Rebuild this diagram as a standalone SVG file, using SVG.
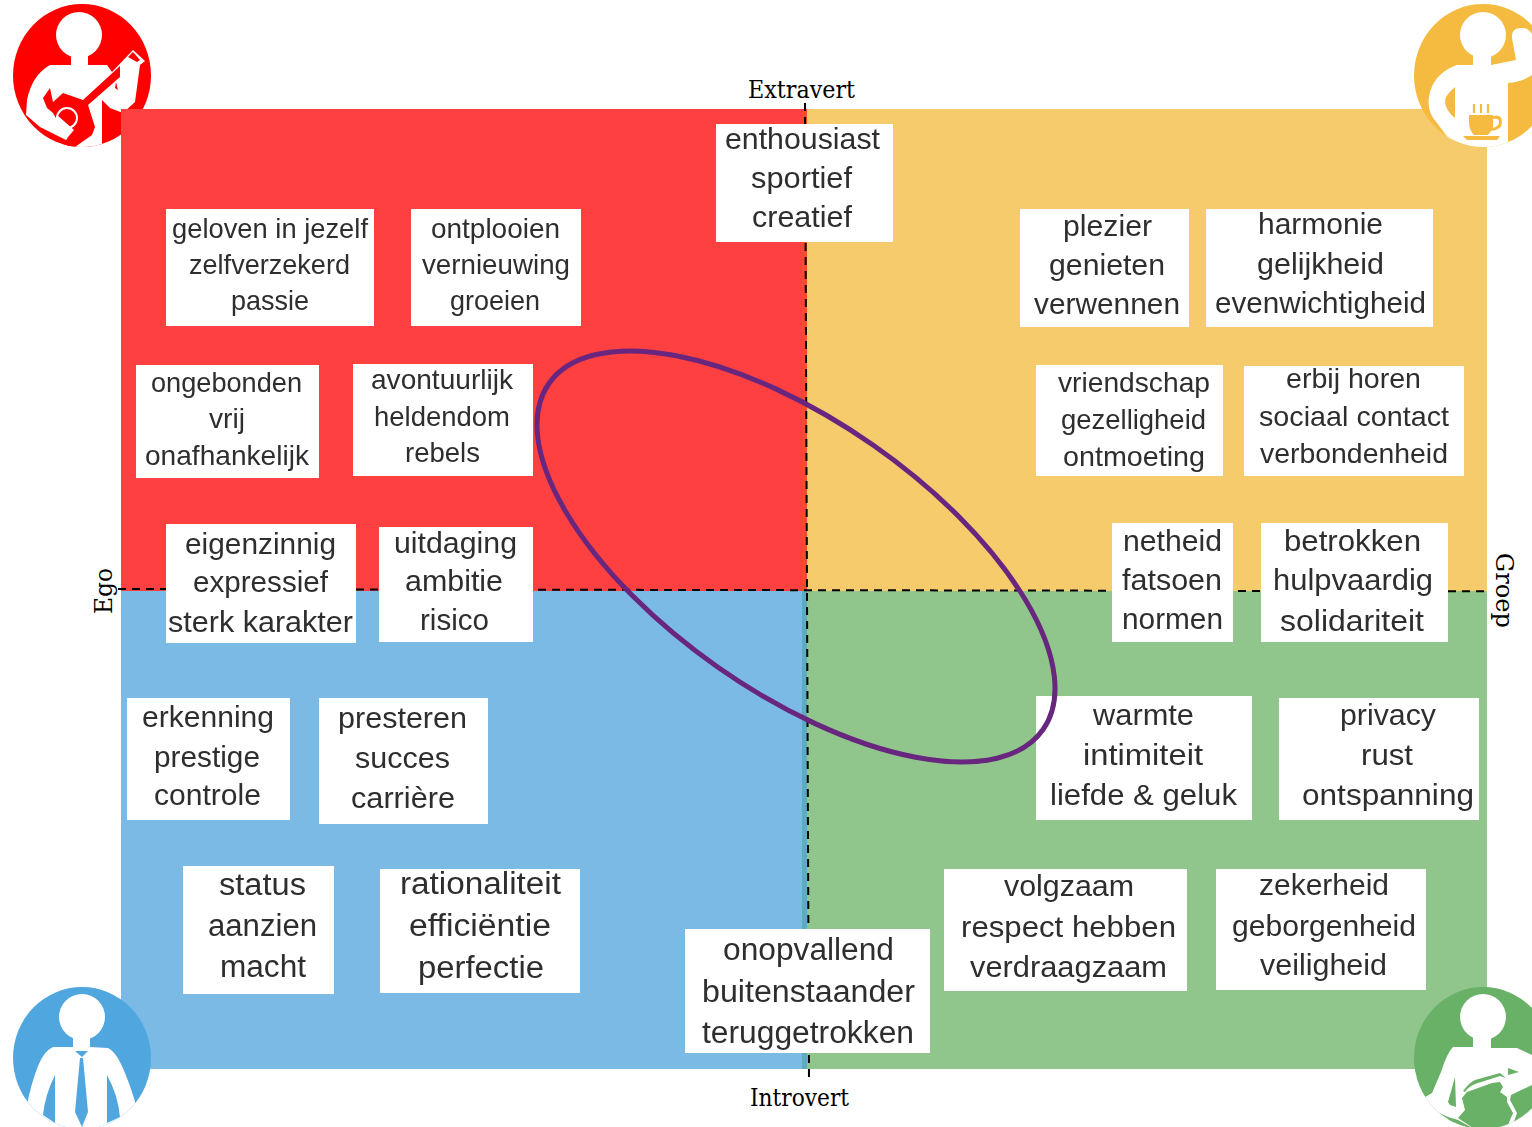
<svg xmlns="http://www.w3.org/2000/svg" width="1532" height="1127" viewBox="0 0 1532 1127">
<style>
.b{fill:#fff}
.t{font-family:"Liberation Sans",Arial,sans-serif;fill:#2e2e2e;filter:url(#soft)}
.s28{font-size:28px}.s30{font-size:30px}.s31{font-size:31px}
.a{font-family:"DejaVu Serif",serif;font-size:24px;fill:#000}
.w{fill:#fff}
.axis{fill:none;stroke:#000;stroke-width:2;stroke-dasharray:8 6}
</style>
<defs>
<filter id="soft" x="-5%" y="-20%" width="110%" height="140%"><feGaussianBlur stdDeviation="0.55"/></filter>
<clipPath id="cr"><ellipse cx="82" cy="75.5" rx="69" ry="71.5"/></clipPath>
<clipPath id="cy"><ellipse cx="1483" cy="75.5" rx="69" ry="71.5"/></clipPath>
<clipPath id="cb"><ellipse cx="82" cy="1058" rx="69" ry="71"/></clipPath>
<clipPath id="cg"><ellipse cx="1483" cy="1058" rx="69" ry="71"/></clipPath>
</defs>
<rect width="1532" height="1127" fill="#fff"/>
<g id="icon-red">
<ellipse cx="82" cy="75.5" rx="69" ry="71.5" fill="#fe0000"/>
<g clip-path="url(#cr)">
<circle class="w" cx="79" cy="35" r="23"/>
<path class="w" d="M71 52V65H50Q32 75 27 100L26 115L40 127L60 137L70 142L75 150H102V100L110 108L123 113L135 102L140 65L145 61L133 50L112 72L107 65H88V52Z"/>
<path fill="#fe0000" d="M50 88L53 102L63 93L83 100L120 66V77L88 105L95 127L92 135L75 147L62 147L68 137L69 133L57 120L53 113L47 108L43 98Z"/>
<circle cx="67" cy="118" r="10" fill="#fe0000" stroke="#fff" stroke-width="2"/>
<path class="w" d="M57 115L74 130L68 137L62 133L56 124Z"/>
<path fill="#fe0000" d="M133 52L140 60L137 62L128 57Z"/>
<path fill="#fe0000" d="M116 82L118 90L115 88Z"/>
</g>
</g>
<g id="quadrants">
<rect x="121" y="109" width="686" height="482" fill="#ff4040"/>
<rect x="807" y="109" width="680" height="482" fill="#f6cb6c"/>
<rect x="121" y="591" width="686" height="478" fill="#7cbae6"/>
<rect x="807" y="591" width="680" height="478" fill="#90c58b"/>
<rect x="802" y="109" width="5" height="482" fill="#f94a2e"/>
<rect x="802" y="591" width="5" height="478" fill="#5cacc4"/>
</g>
<g id="icon-yellow">
<ellipse cx="1483" cy="75.5" rx="69" ry="71.5" fill="#f4bb40"/>
<g clip-path="url(#cy)">
<circle class="w" cx="1483" cy="35" r="23"/>
<path class="w" d="M1473 52V65H1457Q1436 72 1430 92Q1425 110 1437 123L1452 143L1458 150H1508V83Q1522 82 1532 75V34Q1528 27 1520 28Q1511 29 1512 38L1516 60L1491 65V52Z"/>
<path fill="#f4bb40" d="M1455 87Q1444 96 1445 103Q1447 112 1455 118Z"/>
<path fill="#f4bb40" fill-rule="evenodd" d="M1469 115H1493V116Q1502 114 1502 122Q1502 130 1491 131L1488 135H1474Q1469 130 1469 122ZM1493 119V128Q1499 126 1499 122Q1499 118 1493 119ZM1463 136H1500L1497 140H1467Z"/>
<path fill="none" stroke="#f4bb40" stroke-width="2.2" d="M1474 104V113M1481 104V113M1488 104V113"/>
</g>
</g>
<g id="icon-blue">
<ellipse cx="82" cy="1058" rx="69" ry="71" fill="#50a6de"/>
<g clip-path="url(#cb)">
<circle class="w" cx="82" cy="1017" r="23"/>
<path class="w" d="M73 1034V1047H53Q44 1051 38 1066Q31 1084 27 1105L20 1130H145L136 1105Q130 1084 122 1066Q115 1051 108 1048L90 1047V1034Z"/>
<path fill="#50a6de" d="M55 1075Q45 1095 43 1115L55 1123ZM107 1075Q118 1095 120 1117L107 1123Z"/>
<path fill="#50a6de" d="M75 1051H88L82 1057ZM80 1058H83L88 1112L82 1127L75 1112Z"/>
</g>
</g>
<g id="icon-green">
<ellipse cx="1483" cy="1058" rx="69" ry="71" fill="#68b166"/>
<g clip-path="url(#cg)">
<circle class="w" cx="1483" cy="1017" r="23"/>
<path class="w" d="M1473 1034V1047H1453Q1447 1053 1441 1072L1432 1093L1425 1097L1433 1110L1448 1117L1458 1120L1476 1130H1532V1055L1517 1048H1491V1034Z"/>
<path fill="#68b166" d="M1455 1077L1448 1102L1450 1105L1456 1107ZM1448 1117L1457 1125L1449 1127Z"/>
<path fill="#68b166" d="M1508 1068L1519 1072L1508 1075Z"/>
<path fill="#68b166" d="M1467 1092L1492 1083L1500 1082L1503 1087L1500 1092L1507 1097L1507 1102L1513 1113L1508 1125V1130H1476L1458 1118L1465 1110L1462 1098Z"/>
<path fill="#68b166" d="M1511 1095L1532 1085V1130H1511L1517 1113L1510 1100Z"/>
<path fill="#68b166" d="M1463 1091Q1470 1082 1475 1080L1500 1073L1506 1078L1500 1076L1475 1084Q1468 1087 1465 1092Z"/>
</g>
</g>
<g id="connectors">
<path class="axis" d="M118 589L1487 591.3"/>
<path class="axis" d="M805 103L809 1083"/>
</g>
<g id="axis-labels">
<text class="a" x="748" y="98" textLength="107" lengthAdjust="spacingAndGlyphs">Extravert</text>
<text class="a" x="750" y="1106" textLength="99" lengthAdjust="spacingAndGlyphs">Introvert</text>
<text class="a" transform="translate(112 614) rotate(-90)" textLength="46" lengthAdjust="spacingAndGlyphs">Ego</text>
<text class="a" transform="translate(1496 553) rotate(90)" textLength="75" lengthAdjust="spacingAndGlyphs">Groep</text>
</g>
<g id="node-geloven"><rect class="b" x="166" y="209" width="208" height="117"/><text class="t s28" x="172" y="238" textLength="196" lengthAdjust="spacingAndGlyphs">geloven in jezelf</text><text class="t s28" x="189" y="274" textLength="161" lengthAdjust="spacingAndGlyphs">zelfverzekerd</text><text class="t s28" x="231" y="310" textLength="78" lengthAdjust="spacingAndGlyphs">passie</text></g>
<g id="node-ontplooien"><rect class="b" x="411" y="209" width="170" height="117"/><text class="t s28" x="431" y="238" textLength="129" lengthAdjust="spacingAndGlyphs">ontplooien</text><text class="t s28" x="422" y="274" textLength="148" lengthAdjust="spacingAndGlyphs">vernieuwing</text><text class="t s28" x="450" y="310" textLength="90" lengthAdjust="spacingAndGlyphs">groeien</text></g>
<g id="node-ongebonden"><rect class="b" x="136" y="365" width="183" height="113"/><text class="t s28" x="151" y="392" textLength="151" lengthAdjust="spacingAndGlyphs">ongebonden</text><text class="t s28" x="209" y="428" textLength="36" lengthAdjust="spacingAndGlyphs">vrij</text><text class="t s28" x="145" y="465" textLength="164" lengthAdjust="spacingAndGlyphs">onafhankelijk</text></g>
<g id="node-avontuurlijk"><rect class="b" x="353" y="364" width="180" height="112"/><text class="t s28" x="371" y="389" textLength="142" lengthAdjust="spacingAndGlyphs">avontuurlijk</text><text class="t s28" x="374" y="426" textLength="136" lengthAdjust="spacingAndGlyphs">heldendom</text><text class="t s28" x="405" y="462" textLength="75" lengthAdjust="spacingAndGlyphs">rebels</text></g>
<g id="node-eigenzinnig"><rect class="b" x="166" y="524" width="190" height="119"/><text class="t s30" x="185" y="554" textLength="151" lengthAdjust="spacingAndGlyphs">eigenzinnig</text><text class="t s30" x="193" y="592" textLength="135" lengthAdjust="spacingAndGlyphs">expressief</text><text class="t s30" x="168" y="632" textLength="185" lengthAdjust="spacingAndGlyphs">sterk karakter</text></g>
<g id="node-uitdaging"><rect class="b" x="379" y="527" width="154" height="115"/><text class="t s30" x="394" y="553" textLength="123" lengthAdjust="spacingAndGlyphs">uitdaging</text><text class="t s30" x="405" y="591" textLength="98" lengthAdjust="spacingAndGlyphs">ambitie</text><text class="t s30" x="420" y="630" textLength="69" lengthAdjust="spacingAndGlyphs">risico</text></g>
<g id="node-enthousiast"><rect class="b" x="716" y="124" width="177" height="118"/><text class="t s30" x="725" y="149" textLength="155" lengthAdjust="spacingAndGlyphs">enthousiast</text><text class="t s30" x="751" y="188" textLength="101" lengthAdjust="spacingAndGlyphs">sportief</text><text class="t s30" x="752" y="227" textLength="100" lengthAdjust="spacingAndGlyphs">creatief</text></g>
<g id="node-plezier"><rect class="b" x="1020" y="209" width="169" height="118"/><text class="t s30" x="1063" y="236" textLength="89" lengthAdjust="spacingAndGlyphs">plezier</text><text class="t s30" x="1049" y="275" textLength="116" lengthAdjust="spacingAndGlyphs">genieten</text><text class="t s30" x="1034" y="314" textLength="146" lengthAdjust="spacingAndGlyphs">verwennen</text></g>
<g id="node-harmonie"><rect class="b" x="1206" y="209" width="227" height="118"/><text class="t s30" x="1258" y="234" textLength="125" lengthAdjust="spacingAndGlyphs">harmonie</text><text class="t s30" x="1257" y="274" textLength="127" lengthAdjust="spacingAndGlyphs">gelijkheid</text><text class="t s30" x="1215" y="313" textLength="211" lengthAdjust="spacingAndGlyphs">evenwichtigheid</text></g>
<g id="node-vriendschap"><rect class="b" x="1036" y="365" width="187" height="111"/><text class="t s28" x="1058" y="392" textLength="152" lengthAdjust="spacingAndGlyphs">vriendschap</text><text class="t s28" x="1061" y="429" textLength="145" lengthAdjust="spacingAndGlyphs">gezelligheid</text><text class="t s28" x="1063" y="466" textLength="142" lengthAdjust="spacingAndGlyphs">ontmoeting</text></g>
<g id="node-erbij"><rect class="b" x="1244" y="366" width="220" height="110"/><text class="t s28" x="1286" y="388" textLength="135" lengthAdjust="spacingAndGlyphs">erbij horen</text><text class="t s28" x="1259" y="426" textLength="190" lengthAdjust="spacingAndGlyphs">sociaal contact</text><text class="t s28" x="1260" y="463" textLength="188" lengthAdjust="spacingAndGlyphs">verbondenheid</text></g>
<g id="node-netheid"><rect class="b" x="1112" y="523" width="121" height="119"/><text class="t s30" x="1123" y="551" textLength="99" lengthAdjust="spacingAndGlyphs">netheid</text><text class="t s30" x="1122" y="590" textLength="100" lengthAdjust="spacingAndGlyphs">fatsoen</text><text class="t s30" x="1122" y="629" textLength="101" lengthAdjust="spacingAndGlyphs">normen</text></g>
<g id="node-betrokken"><rect class="b" x="1261" y="523" width="187" height="119"/><text class="t s30" x="1284" y="551" textLength="137" lengthAdjust="spacingAndGlyphs">betrokken</text><text class="t s30" x="1273" y="590" textLength="160" lengthAdjust="spacingAndGlyphs">hulpvaardig</text><text class="t s30" x="1280" y="631" textLength="144" lengthAdjust="spacingAndGlyphs">solidariteit</text></g>
<g id="node-erkenning"><rect class="b" x="127" y="698" width="163" height="122"/><text class="t s30" x="142" y="727" textLength="132" lengthAdjust="spacingAndGlyphs">erkenning</text><text class="t s30" x="154" y="767" textLength="106" lengthAdjust="spacingAndGlyphs">prestige</text><text class="t s30" x="154" y="805" textLength="107" lengthAdjust="spacingAndGlyphs">controle</text></g>
<g id="node-presteren"><rect class="b" x="319" y="698" width="169" height="126"/><text class="t s30" x="338" y="728" textLength="129" lengthAdjust="spacingAndGlyphs">presteren</text><text class="t s30" x="355" y="768" textLength="95" lengthAdjust="spacingAndGlyphs">succes</text><text class="t s30" x="351" y="808" textLength="104" lengthAdjust="spacingAndGlyphs">carrière</text></g>
<g id="node-status"><rect class="b" x="183" y="866" width="151" height="128"/><text class="t s31" x="219" y="895" textLength="87" lengthAdjust="spacingAndGlyphs">status</text><text class="t s31" x="208" y="936" textLength="109" lengthAdjust="spacingAndGlyphs">aanzien</text><text class="t s31" x="220" y="977" textLength="86" lengthAdjust="spacingAndGlyphs">macht</text></g>
<g id="node-rationaliteit"><rect class="b" x="380" y="869" width="200" height="124"/><text class="t s31" x="400" y="894" textLength="161" lengthAdjust="spacingAndGlyphs">rationaliteit</text><text class="t s31" x="409" y="936" textLength="142" lengthAdjust="spacingAndGlyphs">efficiëntie</text><text class="t s31" x="418" y="978" textLength="126" lengthAdjust="spacingAndGlyphs">perfectie</text></g>
<g id="node-onopvallend"><rect class="b" x="685" y="929" width="245" height="124"/><text class="t s31" x="723" y="960" textLength="171" lengthAdjust="spacingAndGlyphs">onopvallend</text><text class="t s31" x="702" y="1002" textLength="213" lengthAdjust="spacingAndGlyphs">buitenstaander</text><text class="t s31" x="702" y="1043" textLength="212" lengthAdjust="spacingAndGlyphs">teruggetrokken</text></g>
<g id="node-warmte"><rect class="b" x="1036" y="696" width="216" height="124"/><text class="t s30" x="1093" y="725" textLength="101" lengthAdjust="spacingAndGlyphs">warmte</text><text class="t s30" x="1083" y="765" textLength="120" lengthAdjust="spacingAndGlyphs">intimiteit</text><text class="t s30" x="1050" y="805" textLength="187" lengthAdjust="spacingAndGlyphs">liefde &amp; geluk</text></g>
<g id="node-privacy"><rect class="b" x="1279" y="698" width="200" height="122"/><text class="t s30" x="1340" y="725" textLength="96" lengthAdjust="spacingAndGlyphs">privacy</text><text class="t s30" x="1361" y="765" textLength="52" lengthAdjust="spacingAndGlyphs">rust</text><text class="t s30" x="1302" y="805" textLength="172" lengthAdjust="spacingAndGlyphs">ontspanning</text></g>
<g id="node-volgzaam"><rect class="b" x="944" y="869" width="243" height="122"/><text class="t s30" x="1004" y="896" textLength="130" lengthAdjust="spacingAndGlyphs">volgzaam</text><text class="t s30" x="961" y="937" textLength="215" lengthAdjust="spacingAndGlyphs">respect hebben</text><text class="t s30" x="970" y="977" textLength="197" lengthAdjust="spacingAndGlyphs">verdraagzaam</text></g>
<g id="node-zekerheid"><rect class="b" x="1216" y="869" width="210" height="121"/><text class="t s30" x="1259" y="895" textLength="130" lengthAdjust="spacingAndGlyphs">zekerheid</text><text class="t s30" x="1232" y="936" textLength="184" lengthAdjust="spacingAndGlyphs">geborgenheid</text><text class="t s30" x="1260" y="975" textLength="127" lengthAdjust="spacingAndGlyphs">veiligheid</text></g>
<ellipse id="highlight" cx="796" cy="556.5" rx="301.6" ry="135.5" transform="rotate(35 796 556.5)" fill="none" stroke="#68267f" stroke-width="5"/>
</svg>
